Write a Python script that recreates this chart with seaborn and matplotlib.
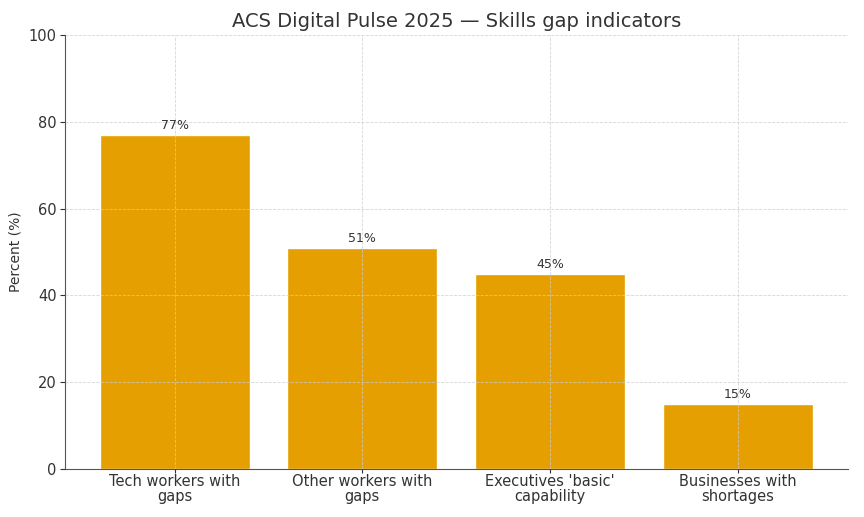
import matplotlib.pyplot as plt
import seaborn as sns
import pandas as pd

categories = ["Tech workers with\ngaps", "Other workers with\ngaps",
              "Executives 'basic'\ncapability", "Businesses with\nshortages"]
values = [77, 51, 45, 15]

df = pd.DataFrame({"indicator": categories, "percent": values})

sns.set_style("ticks")
plt.rcParams['font.family'] = ['DejaVu Sans']
text_col = "#333333"

fig = plt.figure(figsize=(8.64, 5.17), dpi=100)
ax = fig.add_axes([0.075, 0.093, 0.906, 0.839])

sns.barplot(data=df, x="indicator", y="percent", color="#E69F00",
            saturation=1, width=0.8, ax=ax)

for p, v in zip(ax.patches, values):
    ax.text(p.get_x() + p.get_width() / 2, v + 0.6, f"{v}%",
            ha="center", va="bottom", fontsize=9, color=text_col)

ax.set_xlim(-0.585, 3.585)
ax.set_ylim(0, 100)
ax.set_title("ACS Digital Pulse 2025 — Skills gap indicators", fontsize=14, color=text_col)
ax.set_xlabel("")
ax.set_ylabel("Percent (%)", fontsize=10, color=text_col)
ax.tick_params(axis="both", labelsize=10.5, colors=text_col, length=3.5, pad=2.5)
ax.tick_params(axis="x", length=3, pad=1)
for lbl in ax.get_xticklabels():
    lbl.set_linespacing(1.0)
ax.grid(True, linestyle="--", linewidth=0.6, color="#cccccc", alpha=0.8)
ax.set_axisbelow(False)
sns.despine(ax=ax)
for s in ["left", "bottom"]:
    ax.spines[s].set_color("#555555")

fig.savefig("out.png", dpi=100)
